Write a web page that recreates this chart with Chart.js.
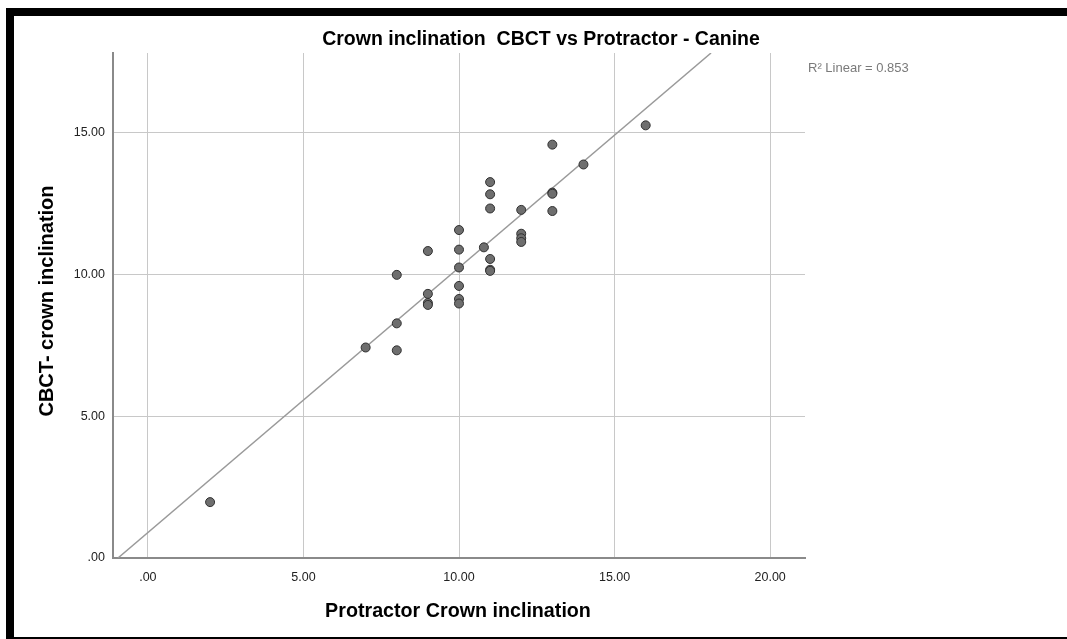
<!DOCTYPE html>
<html>
<head>
<meta charset="utf-8">
<script src="https://cdn.jsdelivr.net/npm/chart.js@4/dist/chart.umd.min.js"></script>
<style>
  html, body { margin: 0; padding: 0; background: #fff; overflow: hidden; }
  #wrap { position: relative; width: 1067px; height: 639px; }
  canvas { position: absolute; left: 0; top: 0; }
  .bd { position: absolute; background: #000; z-index: 5; }
</style>
</head>
<body>
<div id="wrap">
  <canvas id="c" width="1067" height="639"></canvas>
  <div class="bd" style="left:6px;top:8px;width:1061px;height:8px;"></div>
  <div class="bd" style="left:6px;top:8px;width:8px;height:631px;"></div>
  <div class="bd" style="left:6px;top:637px;width:1061px;height:2px;"></div>
</div>
<script>
// ---- data ----
const chartTitle = "Crown inclination  CBCT vs Protractor - Canine";
const xAxisTitle = "Protractor Crown inclination";
const yAxisTitle = "CBCT- crown inclination";
const fitLabel = "R\u00B2 Linear = 0.853";

const protractorX = [16, 13, 14, 11, 11, 11, 13, 13, 13, 12, 12, 12, 12, 10, 10, 10, 10, 10, 10, 10.8, 11, 11, 11, 9, 9, 9, 9, 8, 8, 8, 7, 2];
const cbctY      = [15.25, 14.57, 13.87, 13.25, 12.82, 12.32, 12.88, 12.84, 12.23, 12.27, 11.43, 11.27, 11.14, 11.56, 10.87, 10.24, 9.59, 9.13, 8.97, 10.95, 10.54, 10.16, 10.12, 10.82, 9.31, 8.99, 8.92, 9.98, 8.27, 7.32, 7.42, 1.97];

// fit line end points
const fitX = [-0.96, 18.1];
const fitY = [0, 17.8];

const xTickValues = [0, 5, 10, 15, 20];
const xTickLabels = [".00", "5.00", "10.00", "15.00", "20.00"];
const yTickValues = [0, 5, 10, 15];
const yTickLabels = [".00", "5.00", "10.00", "15.00"];

const xRange = [-1.12, 21.12];
const yRange = [0, 17.8];
// ----------------------------------------------

const points = protractorX.map((x, i) => ({ x: x, y: cbctY[i] }));
const fitPoints = fitX.map((x, i) => ({ x: x, y: fitY[i] }));

const FONT = '"Liberation Sans", Arial, sans-serif';

const textPlugin = {
  id: 'texts',
  afterDraw(chart) {
    const ctx = chart.ctx;
    ctx.save();
    ctx.fillStyle = '#000';
    ctx.textAlign = 'center';
    ctx.textBaseline = 'alphabetic';
    ctx.font = 'bold 19.5px ' + FONT;
    ctx.fillText(chartTitle, 541, 45);
    ctx.font = 'bold 19.7px ' + FONT;
    ctx.fillText(xAxisTitle, 458, 617);
    ctx.save();
    ctx.translate(53, 301);
    ctx.rotate(-Math.PI / 2);
    ctx.font = 'bold 20px ' + FONT;
    ctx.fillText(yAxisTitle, 0, 0);
    ctx.restore();
    ctx.textAlign = 'left';
    ctx.textBaseline = 'middle';
    ctx.fillStyle = '#7a7a7a';
    ctx.font = '13px ' + FONT;
    ctx.fillText(fitLabel, 808, 68);
    ctx.restore();
  }
};

new Chart(document.getElementById('c'), {
  type: 'scatter',
  data: {
    datasets: [
      {
        type: 'line',
        data: fitPoints,
        borderColor: '#9a9a9a',
        borderWidth: 1.5,
        pointRadius: 0,
        fill: false,
        order: 2
      },
      {
        data: points,
        backgroundColor: '#6e6e6e',
        borderColor: '#303030',
        borderWidth: 1,
        pointRadius: 4.5,
        order: 1
      }
    ]
  },
  options: {
    responsive: false,
    animation: false,
    devicePixelRatio: 1,
    layout: { padding: { top: 53, right: 262, left: 0, bottom: 0 } },
    plugins: {
      legend: { display: false },
      tooltip: { enabled: false },
      title: { display: false }
    },
    scales: {
      x: {
        type: 'linear',
        min: xRange[0],
        max: xRange[1],
        afterBuildTicks: (s) => { s.ticks = xTickValues.map(v => ({ value: v })); },
        afterFit: (s) => { s.height = 81; },
        ticks: {
          padding: 12,
          color: '#222',
          font: { family: FONT, size: 12.5 },
          callback: (v) => { const i = xTickValues.indexOf(v); return i >= 0 ? xTickLabels[i] : ''; },
          maxRotation: 0
        },
        grid: { color: '#c8c8c8', lineWidth: 1, drawTicks: false },
        border: { color: '#8a8a8a', width: 2 }
      },
      y: {
        type: 'linear',
        min: yRange[0],
        max: yRange[1],
        afterBuildTicks: (s) => { s.ticks = yTickValues.map(v => ({ value: v })); },
        afterFit: (s) => { s.width = 113; },
        ticks: {
          padding: 8,
          color: '#222',
          font: { family: FONT, size: 12.5 },
          callback: (v) => { const i = yTickValues.indexOf(v); return i >= 0 ? yTickLabels[i] : ''; }
        },
        grid: { color: '#c8c8c8', lineWidth: 1, drawTicks: false },
        border: { color: '#8a8a8a', width: 2 }
      }
    }
  },
  plugins: [textPlugin]
});
</script>
</body>
</html>
